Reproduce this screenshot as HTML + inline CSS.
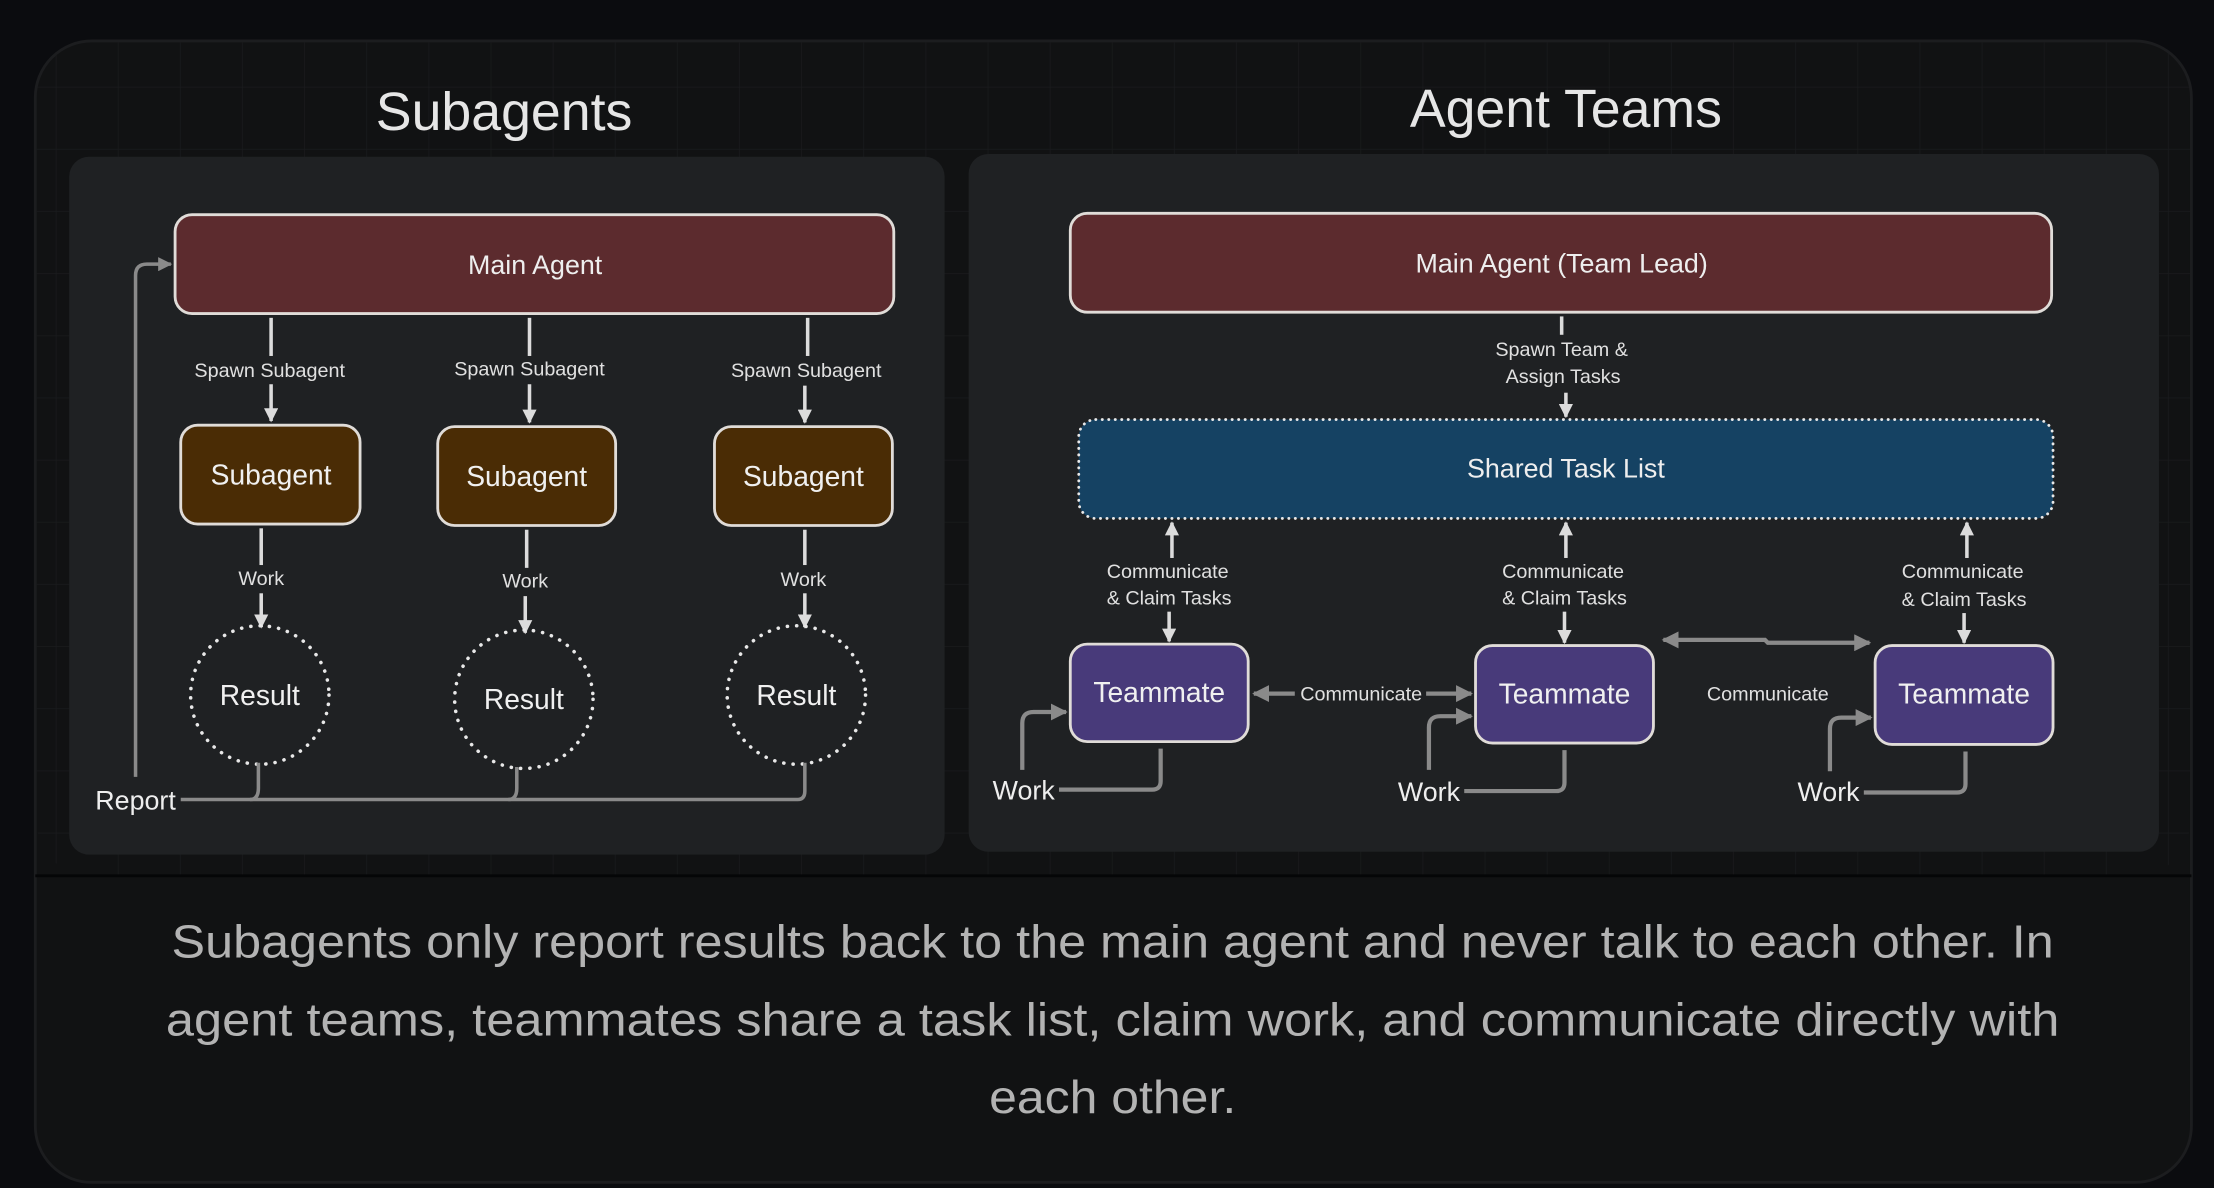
<!DOCTYPE html>
<html><head><meta charset="utf-8"><style>
html,body{margin:0;padding:0;background:#0b0c0f;}
svg{display:block;}
text{font-family:"Liberation Sans",sans-serif;}
</style></head><body>
<svg width="2214" height="1188" viewBox="0 0 1568 841" preserveAspectRatio="none" xmlns="http://www.w3.org/2000/svg">
<defs>
<pattern id="grid" width="44" height="44" patternUnits="userSpaceOnUse" x="-4" y="18">
<path d="M44 0V44M0 44H44" fill="none" stroke="#1a1b1d" stroke-width="1"/>
</pattern>
<marker id="aw" viewBox="0 0 10 10" refX="9" refY="5" markerWidth="4" markerHeight="4" orient="auto"><path d="M0 0L10 5L0 10z" fill="#dcdcdc"/></marker>
<marker id="ag" viewBox="0 0 10 10" refX="9" refY="5" markerWidth="4" markerHeight="4" orient="auto-start-reverse"><path d="M0 0L10 5L0 10z" fill="#8a8a8a"/></marker>
</defs>
<rect width="1568" height="841" fill="#0b0c0f"/>
<rect x="25" y="29" width="1527" height="808" rx="40" fill="#111213" stroke="#1c1d1f" stroke-width="2"/>
<rect x="26" y="30" width="1525" height="590" rx="38" fill="url(#grid)"/>
<line x1="25" y1="620" x2="1552" y2="620" stroke="#050607" stroke-width="2"/>

<text x="357" y="92" font-size="38" fill="#e6e6e6" text-anchor="middle">Subagents</text>
<text x="1109" y="90" font-size="38" fill="#e6e6e6" text-anchor="middle">Agent Teams</text>

<rect x="49" y="111" width="620" height="494" rx="14" fill="#1f2123"/>
<rect x="686" y="109" width="843" height="494" rx="14" fill="#1f2123"/>

<!-- Left -->
<rect x="124" y="152" width="509" height="70" rx="12" fill="#5c2b2e" stroke="#e0dcd8" stroke-width="2"/>
<text x="379" y="194" font-size="19" fill="#eeeeee" text-anchor="middle">Main Agent</text>

<g stroke="#dcdcdc" stroke-width="2.5" fill="none">
<line x1="192" y1="225" x2="192" y2="252"/><line x1="192" y1="272" x2="192" y2="298" marker-end="url(#aw)"/>
<line x1="375" y1="225" x2="375" y2="252"/><line x1="375" y1="272" x2="375" y2="299" marker-end="url(#aw)"/>
<line x1="572" y1="225" x2="572" y2="252"/><line x1="570" y1="273" x2="570" y2="299" marker-end="url(#aw)"/>
<line x1="185" y1="374" x2="185" y2="400"/><line x1="185" y1="420" x2="185" y2="444" marker-end="url(#aw)"/>
<line x1="373" y1="375" x2="373" y2="402"/><line x1="372" y1="422" x2="372" y2="448" marker-end="url(#aw)"/>
<line x1="570" y1="375" x2="570" y2="400"/><line x1="570" y1="420" x2="570" y2="444" marker-end="url(#aw)"/>
</g>
<g font-size="14" fill="#e0e0e0" text-anchor="middle">
<text x="191" y="267">Spawn Subagent</text>
<text x="375" y="266">Spawn Subagent</text>
<text x="571" y="267">Spawn Subagent</text>
<text x="185" y="414">Work</text>
<text x="372" y="416">Work</text>
<text x="569" y="415">Work</text>
</g>
<g fill="#4a2c05" stroke="#e0dcd8" stroke-width="2">
<rect x="128" y="301" width="127" height="70" rx="12"/>
<rect x="310" y="302" width="126" height="70" rx="12"/>
<rect x="506" y="302" width="126" height="70" rx="12"/>
</g>
<g font-size="20" fill="#f0f0f0" text-anchor="middle">
<text x="192" y="343">Subagent</text><text x="373" y="344">Subagent</text><text x="569" y="344">Subagent</text>
</g>
<g fill="none" stroke="#e8e8e8" stroke-width="2.5" stroke-dasharray="0.1 6.5" stroke-linecap="round">
<circle cx="184" cy="492" r="49"/><circle cx="371" cy="495" r="49"/><circle cx="564" cy="492" r="49"/>
</g>
<g font-size="20" fill="#f0f0f0" text-anchor="middle">
<text x="184" y="499">Result</text><text x="371" y="502">Result</text><text x="564" y="499">Result</text>
</g>
<g stroke="#8a8a8a" stroke-width="2.5" fill="none">
<path d="M128 566H565Q570 566 570 560V540"/>
<path d="M177 566Q183 566 183 558V540"/>
<path d="M360 566Q366 566 366 558V543"/>
<path d="M96 550V195Q96 187 104 187H121" marker-end="url(#ag)"/>
</g>
<text x="96" y="573" font-size="19" fill="#eeeeee" text-anchor="middle">Report</text>

<!-- Right -->
<rect x="758" y="151" width="695" height="70" rx="12" fill="#5c2b2e" stroke="#e0dcd8" stroke-width="2"/>
<text x="1106" y="193" font-size="19" fill="#eeeeee" text-anchor="middle">Main Agent (Team Lead)</text>
<g stroke="#dcdcdc" stroke-width="2.5" fill="none">
<line x1="1106" y1="224" x2="1106" y2="237"/>
<line x1="1109" y1="278" x2="1109" y2="295" marker-end="url(#aw)"/>
</g>
<g font-size="14" fill="#e0e0e0" text-anchor="middle">
<text x="1106" y="252">Spawn Team &amp;</text><text x="1107" y="271">Assign Tasks</text>
</g>
<rect x="764" y="297" width="690" height="70" rx="12" fill="#154263" stroke="#e8e8e8" stroke-width="2" stroke-dasharray="0.1 4.5" stroke-linecap="round"/>
<text x="1109" y="338" font-size="19" fill="#eeeeee" text-anchor="middle">Shared Task List</text>

<g stroke="#dcdcdc" stroke-width="2.5" fill="none">
<line x1="830" y1="395" x2="830" y2="370" marker-end="url(#aw)"/>
<line x1="1109" y1="395" x2="1109" y2="370" marker-end="url(#aw)"/>
<line x1="1393" y1="395" x2="1393" y2="370" marker-end="url(#aw)"/>
<line x1="828" y1="433" x2="828" y2="454" marker-end="url(#aw)"/>
<line x1="1108" y1="433" x2="1108" y2="455" marker-end="url(#aw)"/>
<line x1="1391" y1="434" x2="1391" y2="455" marker-end="url(#aw)"/>
</g>
<g font-size="14" fill="#e0e0e0" text-anchor="middle">
<text x="827" y="409">Communicate</text><text x="828" y="428">&amp; Claim Tasks</text>
<text x="1107" y="409">Communicate</text><text x="1108" y="428">&amp; Claim Tasks</text>
<text x="1390" y="409">Communicate</text><text x="1391" y="429">&amp; Claim Tasks</text>
<text x="964" y="496">Communicate</text>
<text x="1252" y="496">Communicate</text>
</g>
<g fill="#483a7a" stroke="#e0dcd8" stroke-width="2">
<rect x="758" y="456" width="126" height="69" rx="12"/>
<rect x="1045" y="457" width="126" height="69" rx="12"/>
<rect x="1328" y="457" width="126" height="70" rx="12"/>
</g>
<g font-size="20" fill="#f0f0f0" text-anchor="middle">
<text x="821" y="497">Teammate</text><text x="1108" y="498">Teammate</text><text x="1391" y="498">Teammate</text>
</g>
<g stroke="#8a8a8a" stroke-width="3" fill="none">
<line x1="917" y1="491" x2="888" y2="491" marker-end="url(#ag)"/>
<line x1="1010" y1="491" x2="1042" y2="491" marker-end="url(#ag)"/>
<path d="M1178 453H1250L1252 455H1324" marker-start="url(#ag)" marker-end="url(#ag)"/>
<path d="M750 559H816Q822 559 822 553V530"/>
<path d="M724 545V512Q724 504 732 504H755" marker-end="url(#ag)"/>
<path d="M1037 560H1102Q1108 560 1108 554V531"/>
<path d="M1012 545V515Q1012 507 1020 507H1042" marker-end="url(#ag)"/>
<path d="M1320 561H1386Q1392 561 1392 555V532"/>
<path d="M1296 546V516Q1296 508 1304 508H1325" marker-end="url(#ag)"/>
</g>
<g font-size="19" fill="#eeeeee" text-anchor="middle">
<text x="725" y="566">Work</text><text x="1012" y="567">Work</text><text x="1295" y="567">Work</text>
</g>

<g font-size="33" fill="#b3b3b3" text-anchor="middle">
<text x="788" y="678" textLength="1333" lengthAdjust="spacingAndGlyphs">Subagents only report results back to the main agent and never talk to each other. In</text>
<text x="788" y="733" textLength="1341" lengthAdjust="spacingAndGlyphs">agent teams, teammates share a task list, claim work, and communicate directly with</text>
<text x="788" y="788" textLength="175" lengthAdjust="spacingAndGlyphs">each other.</text>
</g>
</svg>
</body></html>
